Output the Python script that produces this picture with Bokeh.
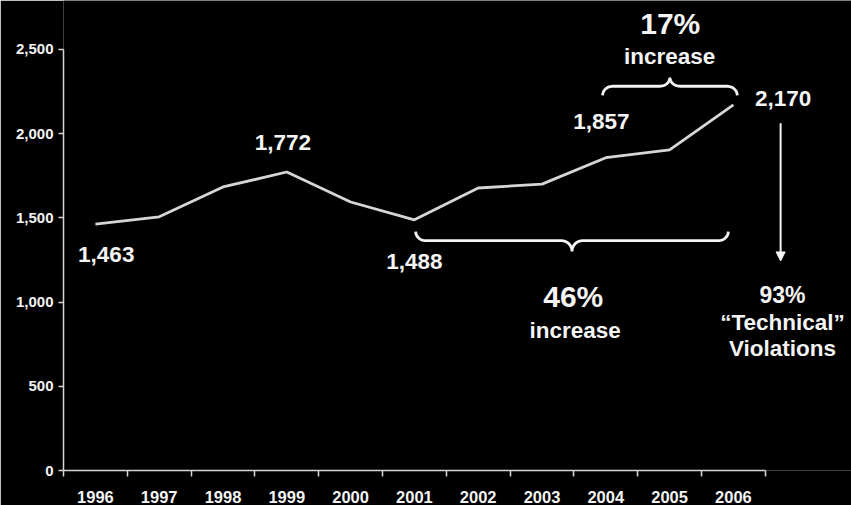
import numpy as np
from bokeh.plotting import figure
from bokeh.models import (ColumnDataSource, Range1d, FixedTicker, NumeralTickFormatter,
                          Arrow, NormalHead)
from bokeh.core.properties import value
from bokeh.embed import file_html
from bokeh.resources import INLINE

# ---- data ----
years = [1996, 1997, 1998, 1999, 2000, 2001, 2002, 2003, 2004, 2005, 2006]
revocations = [1463, 1506, 1683, 1772, 1594, 1488, 1677, 1700, 1857, 1903, 2170]
year_labels = [str(y) for y in years]
y_ticks = [0, 500, 1000, 1500, 2000, 2500]

# annotated points (year index) and their texts
labelled_idx = [0, 3, 5, 8, 10]
short_span = (2004, 2006)   # 17% increase
long_span = (2001, 2006)    # 46% increase
short_pct = "17%"
long_pct = "46%"
tech_pct = "93%"

FG = "#f4f4f4"
LINE = "#d6d6d6"
FONT = "Liberation Sans"

p = figure(width=851, height=505, output_backend="svg", toolbar_location=None,
           x_range=Range1d(1995.5, 2007.851), y_range=Range1d(0, 2790),
           min_border_left=63, min_border_right=0, min_border_top=0,
           min_border_bottom=33, background_fill_color="black",
           border_fill_color="black", outline_line_color=None)
p.grid.visible = False

# axes
xa = p.xaxis[0]
xa.bounds = (1995.5, 2006.5)
xa.ticker = FixedTicker(ticks=years, minor_ticks=[y - 0.5 for y in years] + [years[-1] + 0.5])
xa.major_label_overrides = {y: s for y, s in zip(years, year_labels)}
xa.axis_line_color = LINE
xa.axis_line_width = 1.5
xa.major_tick_out = 0
xa.major_tick_in = 0
xa.minor_tick_out = 6
xa.minor_tick_in = 0
xa.minor_tick_line_color = LINE
xa.minor_tick_line_width = 1.5
xa.major_label_standoff = 14
xa.major_label_text_color = FG
xa.major_label_text_font = FONT
xa.major_label_text_font_style = "bold"
xa.major_label_text_font_size = "16.5px"

ya = p.yaxis[0]
ya.bounds = (0, 2500)
ya.ticker = FixedTicker(ticks=y_ticks, minor_ticks=[])
ya.formatter = NumeralTickFormatter(format="0,0")
ya.axis_line_color = LINE
ya.axis_line_width = 1.5
ya.major_tick_out = 5
ya.major_tick_in = 0
ya.major_tick_line_color = LINE
ya.major_tick_line_width = 1.5
ya.minor_tick_line_color = None
ya.major_label_standoff = 5
ya.major_label_text_color = FG
ya.major_label_text_font = FONT
ya.major_label_text_font_style = "bold"
ya.major_label_text_font_size = "15px"

# main line
src = ColumnDataSource(dict(x=years, y=revocations))
p.line("x", "y", source=src, line_color=LINE, line_width=2.8)

# value labels (offsets in data units)
dx = {0: 0.17, 3: -0.06, 5: 0.0, 8: -0.07, 10: 0.78}
dy = {0: -181, 3: 178, 5: -248, 8: 217, 10: 40}
lab = ColumnDataSource(dict(
    x=[years[i] + dx[i] for i in labelled_idx],
    y=[revocations[i] + dy[i] for i in labelled_idx],
    t=[f"{revocations[i]:,}" for i in labelled_idx]))
p.text("x", "y", text="t", source=lab, text_color=FG, text_font=value(FONT),
       text_font_style="bold", text_font_size="22.5px", text_align="center",
       text_baseline="middle")


def brace(x0, x1, yb, h1, h2, r, s):
    xm = (x0 + x1) / 2
    t = np.linspace(0, np.pi / 2, 14)
    ax = x0 + r * (1 - np.cos(t)); ay = yb + s * h1 * np.sin(t)
    bx = xm - r + r * np.sin(t); by = yb + s * h1 + s * h2 * (1 - np.cos(t))
    left_x = np.concatenate([ax, bx]); left_y = np.concatenate([ay, by])
    right_x = (2 * xm - left_x)[::-1]; right_y = left_y[::-1]
    return np.concatenate([left_x, right_x]), np.concatenate([left_y, right_y])


# top brace (17%)
top_end = revocations[years.index(short_span[1])] + 57
bx_, by_ = brace(short_span[0] - 0.05, short_span[1] + 0.06, top_end, 54, 52, 0.16, 1)
p.line(bx_, by_, line_color=FG, line_width=2.8)
# bottom brace (46%)
bot_end = revocations[years.index(long_span[0])] - 70
bx2, by2 = brace(long_span[0] + 0.02, long_span[1] - 0.08, bot_end, 54, 64, 0.16, -1)
p.line(bx2, by2, line_color=FG, line_width=2.8)

# texts
txt = ColumnDataSource(dict(
    x=[2005.01, 2003.49, 2006.77],
    y=[2654, 1033, 1039],
    t=[short_pct, long_pct, tech_pct],
    s=["30px", "30px", "23px"]))
p.text("x", "y", text="t", source=txt, text_color=FG, text_font=value(FONT),
       text_font_style="bold", text_font_size="s", text_align="center",
       text_baseline="middle")
txt2 = ColumnDataSource(dict(
    x=[2005.0, 2003.52, 2006.77, 2006.77],
    y=[2459, 832, 879, 726],
    t=["increase", "increase", "\u201cTechnical\u201d", "Violations"]))
p.text("x", "y", text="t", source=txt2, text_color=FG, text_font=value(FONT),
       text_font_style="bold", text_font_size="22.5px", text_align="center",
       text_baseline="middle")

# arrow
p.add_layout(Arrow(x_start=2006.74, y_start=2062, x_end=2006.74, y_end=1244,
                   line_color=FG, line_width=2,
                   end=NormalHead(size=9, fill_color=FG, line_color=FG)))

open("out.html", "w").write(file_html(p, INLINE))
